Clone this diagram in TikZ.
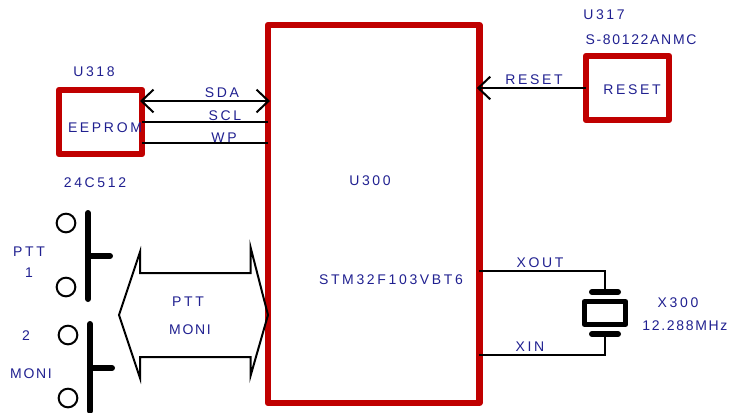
\documentclass[tikz,border=0pt]{standalone}
\usepackage{fontspec}
\setmainfont{Liberation Sans}
\newfontfamily\widefont[LetterSpace=19]{Liberation Sans}
\newfontfamily\tightfont[LetterSpace=12]{Liberation Sans}
\usetikzlibrary{arrows.meta}
\definecolor{labelblue}{RGB}{32,32,144}
\definecolor{boxred}{RGB}{192,0,0}
\tikzset{
	chipbox/.style={draw=boxred, line width=4.75pt, line join=round, inner sep=0pt, outer sep=0pt},
	wire/.style={line width=1.5pt, color=black},
	barb/.style={{Straight Barb[length=9pt,width=17pt,line width=1.5pt]}-, shorten <=-2pt},
	barbs/.style={{Straight Barb[length=9pt,width=17pt,line width=1.5pt]}-{Straight Barb[length=9pt,width=17pt,line width=1.5pt]}, shorten <=-1.5pt, shorten >=-1.5pt},
	label/.style={font=\widefont\fontsize{10.5pt}{12pt}\selectfont, color=labelblue, inner sep=0pt, yshift=-0.75pt},
	tightlabel/.style={font=\tightfont\fontsize{10.5pt}{12pt}\selectfont, color=labelblue, inner sep=0pt, yshift=-0.75pt},
	contact/.style={circle, draw=black, line width=1.5pt, minimum size=14pt, inner sep=0pt},
	plunger/.style={line width=4.5pt, line cap=round, color=black}
}
\begin{document}
\begin{tikzpicture}[x=0.75pt, y=-0.75pt]
	%%%%% START %%%%%
	\useasboundingbox (0, 0) rectangle (729, 412);

	% chips
	\node[chipbox, minimum width=158.6pt, minimum height=283.5pt] (u300) at (373.75, 214) {};
	\node[chipbox, minimum width=62.25pt, minimum height=48pt] (u318) at (100.5, 122) {};
	\node[chipbox, minimum width=62.25pt, minimum height=48pt] (u317) at (627.5, 88) {};

	% eeprom bus
	\coordinate (sda_a) at (u318.east |- 0, 101);
	\coordinate (sda_b) at (u300.west |- 0, 101);
	\coordinate (scl_a) at (u318.east |- 0, 122);
	\coordinate (scl_b) at (u300.west |- 0, 122);
	\coordinate (wp_a) at (u318.east |- 0, 143);
	\coordinate (wp_b) at (u300.west |- 0, 143);
	\draw[wire, barbs] (sda_a) -- (sda_b);
	\draw[wire] (scl_a) -- (scl_b);
	\draw[wire] (wp_a) -- (wp_b);

	% reset line
	\coordinate (rst_b) at (u300.east |- u317.west);
	\draw[wire, barb] (rst_b) -- (u317.west);

	% crystal
	\coordinate (xout_a) at (u300.east |- 0, 271);
	\coordinate (xin_a) at (u300.east |- 0, 355);
	\node[draw=black, line width=3.75pt, line join=round, minimum width=31pt, minimum height=17.25pt, inner sep=0pt, outer sep=0pt] (x300) at (605, 313) {};
	\coordinate (plate_t) at (605, 292);
	\coordinate (plate_b) at (605, 334);
	\draw[wire] (xout_a) -| (plate_t);
	\draw[wire] (xin_a) -| (plate_b);
	\draw[plunger] (592, 292) -- (618, 292);
	\draw[plunger] (592, 334) -- (618, 334);

	% switches
	\node[contact] (ptt_a) at (66, 223) {};
	\node[contact] (ptt_b) at (66, 287) {};
	\draw[plunger] (88, 213) -- (88, 299);
	\draw[plunger] (88, 256) -- (110, 256);
	\node[contact] (moni_a) at (68, 335) {};
	\node[contact] (moni_b) at (68, 398) {};
	\draw[plunger] (90, 324) -- (90, 411);
	\draw[plunger] (90, 368) -- (112, 368);

	% wide bus arrow
	\draw[line width=1.5pt, line join=miter] (119, 315) -- (140, 252) -- (140, 273) -- (250.5, 273) -- (250.5, 247) -- (268, 315) -- (250.5, 376) -- (250.5, 357) -- (140, 357) -- (140, 378) -- cycle;

	% texts
	\node[label] (t_u318) at (94, 71) {U318};
	\node[label] (t_24c) at (95, 182) {24C512};
	\node[label] (t_eeprom) at (105, 127) {EEPROM};
	\node[label] (t_sda) at (222, 92) {SDA};
	\node[label] (t_scl) at (225, 115) {SCL};
	\node[label] (t_wp) at (224, 137) {WP};
	\node[label] (t_u300) at (370, 180) {U300};
	\node[label] (t_stm) at (391, 279) {STM32F103VBT6};
	\node[label] (t_u317) at (604, 14) {U317};
	\node[tightlabel] (t_s80) at (641, 39) {S-80122ANMC};
	\node[label] (t_rst) at (534, 79) {RESET};
	\node[label] (t_rstin) at (632, 89) {RESET};
	\node[label] (t_xout) at (540, 262) {XOUT};
	\node[label] (t_xin) at (530, 346) {XIN};
	\node[label] (t_x300) at (678, 302) {X300};
	\node[tightlabel] (t_freq) at (685, 325) {12.288MHz};
	\node[label] (t_ptt) at (29, 251) {PTT};
	\node[label] (t_one) at (29, 272) {1};
	\node[label] (t_two) at (26, 335) {2};
	\node[tightlabel] (t_moni) at (31, 373) {MONI};
	\node[label] (t_pttb) at (188, 301) {PTT};
	\node[tightlabel] (t_monib) at (190, 329) {MONI};
	%%%%% END %%%%%
\end{tikzpicture}
\end{document}
